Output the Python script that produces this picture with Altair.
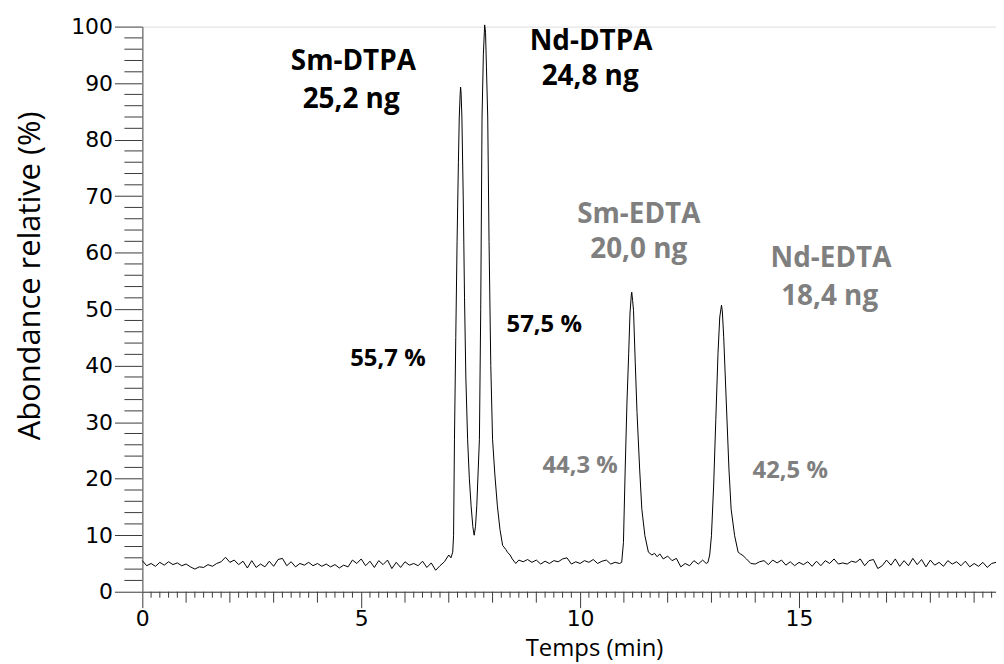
import altair as alt
import pandas as pd

# ---- trace: baseline segments, read every 0.1 min ----
base_a_start = 0.0
base_a = [5.5, 4.6, 5.0, 4.5, 5.2, 4.7, 5.3, 4.8, 5.1, 4.6,
          4.9, 4.4, 4.0, 4.4, 4.3, 4.8, 4.5, 5.0, 5.3, 6.1,
          5.2, 5.6, 4.8, 5.4, 4.2, 5.5, 4.3, 4.9, 4.4, 5.4,
          4.5, 5.7, 5.9, 4.6, 5.3, 4.4, 5.0, 4.7, 5.2, 4.6,
          5.0, 4.5, 4.9, 4.4, 4.8, 4.2, 4.7, 4.4, 5.6, 5.0,
          5.8, 4.6, 5.4, 4.3, 5.5, 4.8, 5.6, 4.1, 5.2, 4.3,
          5.3, 4.7, 5.0, 4.6, 5.4, 4.3, 5.1, 3.8, 4.6, 5.3, 6.5]

dtpa_t = [7.05, 7.09, 7.11, 7.13, 7.16, 7.19, 7.22, 7.24, 7.26, 7.27, 7.28,
          7.30, 7.33, 7.36, 7.39, 7.43, 7.47, 7.51, 7.55, 7.58, 7.61, 7.64,
          7.70, 7.73, 7.76, 7.79, 7.82, 7.84, 7.86, 7.89, 7.92, 7.96, 8.00,
          8.05, 8.11, 8.17, 8.23, 8.30, 8.34, 8.40, 8.45, 8.53, 8.60]
dtpa_a = [6.0, 7.0, 10.0, 27.0, 45.0, 62.0, 76.0, 84.0, 88.0, 89.3, 88.5,
          84.0, 70.0, 52.0, 38.0, 27.0, 20.0, 15.2, 11.5, 10.0, 11.5, 15.2,
          27.0, 50.0, 84.0, 95.0, 100.3, 99.0, 93.0, 84.0, 62.0, 40.0, 27.0,
          21.0, 15.2, 11.0, 8.2, 7.5, 7.0, 6.5, 5.8, 5.0, 5.6]

base_b_start = 8.7
base_b = [5.3, 5.7, 5.2, 5.6, 4.9, 5.4, 5.0, 5.5, 5.3, 5.8,
          6.0, 4.9, 5.3, 5.0, 5.5, 5.2, 5.7, 5.0, 5.4, 5.6,
          4.9, 5.2, 5.0]

sm_edta_t = [10.95, 10.99, 11.03, 11.07, 11.11, 11.14, 11.17, 11.18, 11.20,
             11.22, 11.26, 11.30, 11.36, 11.41, 11.48, 11.56, 11.64, 11.70,
             11.76, 11.82, 11.90]
sm_edta_a = [5.2, 8.7, 21.7, 33.4, 42.2, 49.3, 52.5, 53.0, 51.5,
             49.8, 40.5, 31.7, 21.7, 14.6, 9.9, 7.0, 6.5, 6.8,
             6.2, 6.7, 5.8]

base_c_start = 12.0
base_c = [6.3, 5.5, 5.9, 4.4, 5.0, 4.6, 5.5, 4.9, 5.6]

nd_edta_t = [12.88, 12.92, 12.96, 13.00, 13.05, 13.10, 13.15, 13.19, 13.23,
             13.25, 13.28, 13.34, 13.40, 13.45, 13.53, 13.61, 13.66, 13.72, 13.80]
nd_edta_a = [5.0, 5.2, 6.5, 9.9, 18.7, 30.5, 42.2, 48.6, 50.7,
             49.5, 45.1, 33.4, 21.7, 14.6, 9.9, 7.0, 6.7, 6.4, 5.8]

base_d_start = 13.9
base_d = [5.0, 4.9, 5.3, 5.5, 4.8, 5.6, 5.1, 5.6, 4.7, 5.3,
          4.6, 5.2, 4.8, 5.3, 4.5, 5.4, 4.6, 5.5, 5.0, 5.8,
          4.9, 5.1, 4.9, 5.4, 5.2, 5.8, 4.6, 5.5, 5.7, 4.1,
          4.6, 5.6, 4.7, 5.8, 4.5, 5.5, 4.6, 5.9, 4.8, 5.7,
          4.4, 5.6, 4.7, 5.2, 4.5, 5.5, 4.9, 5.3, 4.6, 5.4,
          4.4, 5.0, 4.5, 5.2, 4.3, 5.0, 5.2]


def grid(start, vals):
    return [round(start + 0.1 * i, 2) for i in range(len(vals))]


temps = (grid(base_a_start, base_a) + dtpa_t + grid(base_b_start, base_b)
         + sm_edta_t + grid(base_c_start, base_c) + nd_edta_t
         + grid(base_d_start, base_d))
abondance = base_a + dtpa_a + base_b + sm_edta_a + base_c + nd_edta_a + base_d
trace = pd.DataFrame({"t": temps, "a": abondance, "i": range(len(temps))})

# ---- annotations ----
black_text = ["Sm-DTPA", "25,2 ng", "Nd-DTPA", "24,8 ng"]
black_x = [4.82, 4.77, 10.25, 10.23]
black_y = [92.4, 85.6, 95.8, 89.6]
grey_text = ["Sm-EDTA", "20,0 ng", "Nd-EDTA", "18,4 ng"]
grey_x = [11.34, 11.34, 15.73, 15.70]
grey_y = [65.3, 59.0, 57.4, 50.7]
pct_black_text = ["55,7 %", "57,5 %"]
pct_black_x = [5.61, 9.18]
pct_black_y = [40.0, 46.0]
pct_grey_text = ["44,3 %", "42,5 %"]
pct_grey_x = [10.0, 14.80]
pct_grey_y = [21.0, 20.2]

# ---- axis ticks ----
y_major = [0, 10, 20, 30, 40, 50, 60, 70, 80, 90, 100]
y_minor = [v for v in range(0, 101, 2) if v % 10 != 0]
x_major = [0, 5, 10, 15]
x_unit = [v for v in range(1, 20) if v % 5 != 0]
x_minor = [round(0.2 * k, 1) for k in range(98) if k % 5 != 0]

GREY = "#7f7f7f"
TICK = "#3a3a3a"

x_enc = alt.X(
    "t:Q",
    scale=alt.Scale(domain=[0, 19.5], nice=False, zero=False),
    axis=alt.Axis(
        values=x_major, format="d",
        title="Temps (min)",
        titleFont="Open Sans", titleFontSize=24, titleFontWeight="normal",
        titleColor="black", titleX=454, titleY=69, titleBaseline="bottom",
        titleAnchor="start", titleAlign="center",
        labelFont="DejaVu Sans", labelFontSize=22, labelColor="black",
        labelPadding=1, labelFlush=False, labelOverlap=False,
        tickSize=16, tickColor=TICK, tickWidth=1,
        domainColor="#333333", domainWidth=1, grid=False,
    ),
)
y_enc = alt.Y(
    "a:Q",
    scale=alt.Scale(domain=[0, 100], nice=False),
    axis=alt.Axis(
        values=y_major,
        title="Abondance relative (%)",
        titleFont="Open Sans", titleFontSize=31, titleFontWeight="normal",
        titleColor="black", titleX=-112, titleY=250, titleBaseline="middle",
        titleAngle=270, titleAlign="center",
        labelFont="DejaVu Sans", labelFontSize=22, labelColor="black",
        labelPadding=2, labelOverlap=False, labelBaseline="middle",
        tickSize=28, tickColor=TICK, tickWidth=1,
        domainColor="#808080", domainWidth=1.5, grid=False,
    ),
)

line = alt.Chart(trace).mark_line(color="black", strokeWidth=1).encode(
    x=x_enc, y=y_enc, order="i:Q")

y_minor_ticks = alt.Chart(pd.DataFrame({"a": y_minor})).mark_rule(
    color=TICK, strokeWidth=1).encode(
    y=y_enc, x=alt.value(-18), x2=alt.value(0))

x_unit_ticks = alt.Chart(pd.DataFrame({"t": x_unit})).mark_rule(
    color=TICK, strokeWidth=1).encode(
    x=x_enc, y=alt.value(568), y2=alt.value(579))

x_minor_ticks = alt.Chart(pd.DataFrame({"t": x_minor})).mark_rule(
    color=TICK, strokeWidth=1).encode(
    x=x_enc, y=alt.value(568), y2=alt.value(574))


def text_layer(texts, xs, ys, color, size):
    df = pd.DataFrame({"label": texts, "t": xs, "a": ys})
    return alt.Chart(df).mark_text(
        font="Open Sans", fontWeight="bold", fontSize=size, color=color,
        align="center", baseline="alphabetic",
    ).encode(x=x_enc, y=y_enc, text="label:N")


chart = alt.layer(
    line,
    y_minor_ticks,
    x_unit_ticks,
    x_minor_ticks,
    text_layer(black_text, black_x, black_y, "black", 28),
    text_layer(grey_text, grey_x, grey_y, GREY, 28),
    text_layer(pct_black_text, pct_black_x, pct_black_y, "black", 24),
    text_layer(pct_grey_text, pct_grey_x, pct_grey_y, GREY, 24),
).properties(
    width=858, height=568,
    padding={"left": 135, "top": 17, "right": 0, "bottom": 80},
    autosize=alt.AutoSizeParams(type="none"),
).configure_view(stroke=None).configure(background="white")

chart.save("out.html", embed_options={"renderer": "svg", "actions": False})
